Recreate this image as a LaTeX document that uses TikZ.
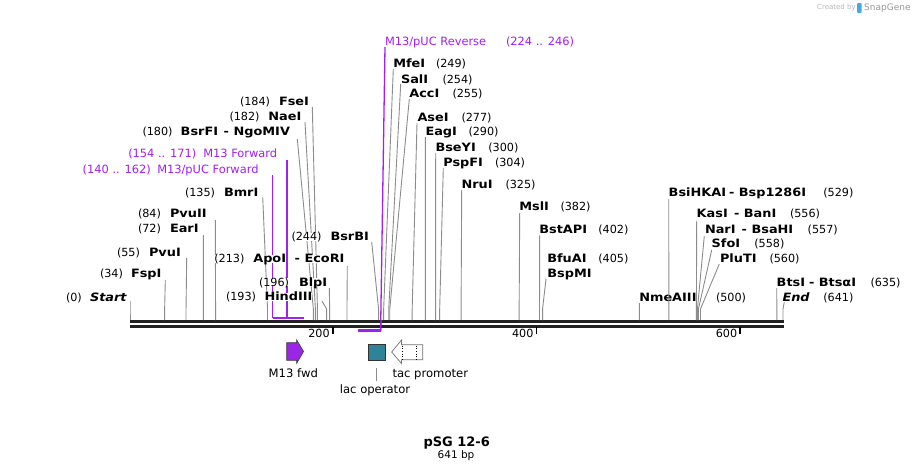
\documentclass[tikz,border=0pt]{standalone}
\usepackage{fontspec}
\setmainfont{DejaVu Sans}
\newfontfamily\enzfont{DejaVu Sans}[FakeStretch=1.12]
\definecolor{primer}{HTML}{A020F0}
\definecolor{cutgray}{HTML}{8C8C8C}
\definecolor{opteal}{HTML}{2E8399}
\definecolor{bbcol}{HTML}{222222}
\newcommand\enzline[4]{%
  \coordinate (#1t) at (#2,#3);
  \coordinate (#1k) at ({130+#4*1.0187},309);
  \coordinate (#1s) at ({130+#4*1.0187},320);
  \draw[cutln] (#1t) -- (#1k) -- (#1s);}
\begin{document}
\begin{tikzpicture}[x=1pt,y=-1pt,
  numtxt/.style={inner sep=0pt,outer sep=0pt,fill=white,text height=8pt,text depth=0pt,anchor=west,font=\fontsize{11.2}{13}\selectfont},
  nametxt/.style={inner sep=0pt,outer sep=0pt,fill=white,text height=8pt,text depth=0pt,anchor=west,font=\enzfont\fontsize{11.5}{13}\selectfont\bfseries},
  endtxt/.style={nametxt,font=\enzfont\fontsize{11.5}{13}\selectfont\bfseries\itshape},
  primtxt/.style={numtxt,text=primer,font=\fontsize{11.4}{13}\selectfont},
  cutln/.style={draw=cutgray,line width=0.9pt},
  primln/.style={draw=primer,line width=1.3pt},
  primbar/.style={draw=primer,line width=2.2pt},
  bbline/.style={draw=bbcol,line width=3pt},
  tickln/.style={draw=black,line width=1.8pt},
  feattxt/.style={inner sep=0pt,text height=8pt,text depth=0pt,font=\fontsize{11.6}{13}\selectfont}]
\useasboundingbox (0,0) rectangle (914,471);
\fill[white] (0,0) rectangle (914,471);

% watermark
\node[inner sep=0pt,anchor=west,text=black!28,font=\fontsize{7}{8}\selectfont] (wm1) at (817,8) {Created by};
\fill[color={rgb,255:red,70;green,170;blue,225},rounded corners=1pt] (857,3) rectangle (861.5,13);
\node[inner sep=0pt,anchor=west,text=black!40,font=\fontsize{9}{10}\selectfont] (wm2) at (864,8) {SnapGene};

% ---- primer lines (drawn first, labels lie over them)
\coordinate (pF1a) at (286.9,160); \coordinate (pF1b) at (286.9,317.7); \coordinate (pF1c) at (304.2,317.7);
\coordinate (pF2a) at (272.6,175); \coordinate (pF2b) at (272.6,317.7); \coordinate (pF2c) at (295,317.7);
\draw[primln] (pF1a) -- (pF1b);
\draw[primln] (pF2a) -- (pF2b);
\draw[primbar] (pF2b) -- (pF2c);
\draw[primbar] (pF1b) -- (pF1c);
\coordinate (pRa) at (385,47); \coordinate (pRb) at (380.6,330.5); \coordinate (pRc) at (358.2,330.5);
\draw[primln] (pRa) -- (pRb);
\draw[primbar] (pRc) -- (pRb);

% backbone
\coordinate (bbL1) at (130,321.8); \coordinate (bbR1) at (784,321.8);
\coordinate (bbL2) at (130,326.2); \coordinate (bbR2) at (784,326.2);
\draw[bbline] (bbL1) -- (bbR1);
\draw[bbline] (bbL2) -- (bbR2);
\draw[primln] (381.2,320) -- (380.6,330.5);
\foreach \p/\l in {199/200,399/400,599/600}{
  \coordinate (tk\l) at ({130+\p*1.0187},327);
  \draw[tickln] (tk\l) -- ++(0,7);
  \node[numtxt,anchor=east] (t\l) at ({130+\p*1.0187-3},333) {\l};
}

% ---- primer labels
\node[primtxt] (pF1n) at (128.3,153.3) {(154 .. 171)};
\node[primtxt] (pF1) at (203.3,153.3) {M13 Forward};
\node[primtxt] (pF2n) at (82.7,169) {(140 .. 162)};
\node[primtxt] (pF2) at (157.3,169) {M13/pUC Forward};
\node[primtxt] (pR) at (385,41.7) {M13/pUC Reverse};
\node[primtxt] (pRn) at (506,41.7) {(224 .. 246)};

% ---- left labels
\node[numtxt] (n0) at (66,297) {(0)};
\node[endtxt] (Start) at (90,297) {Start};
\enzline{Start}{130}{301}{0}
\node[numtxt] (n34) at (100,273) {(34)};
\node[nametxt] (FspI) at (131,273) {FspI};
\enzline{FspI}{165.3}{280}{34}
\node[numtxt] (n55) at (117,252) {(55)};
\node[nametxt] (PvuI) at (149,252) {PvuI};
\enzline{PvuI}{186.7}{258}{55}
\node[numtxt] (n72) at (138,228) {(72)};
\node[nametxt] (EarI) at (170,228) {EarI};
\enzline{EarI}{203.3}{235}{72}
\node[numtxt] (n84) at (138,213) {(84)};
\node[nametxt] (PvuII) at (170,213) {PvuII};
\enzline{PvuII}{215.3}{220}{84}
\node[numtxt] (n135) at (185,192) {(135)};
\node[nametxt] (BmrI) at (224,192) {BmrI};
\enzline{BmrI}{262.7}{197}{135}
\node[numtxt] (n180) at (142.5,131) {(180)};
\node[nametxt] (BsrFI) at (180.7,131) {BsrFI};
\node[nametxt,anchor=east] (NgoMIV) at (290,131) {- NgoMIV};
\enzline{NgoMIV}{297.3}{139}{180}
\node[numtxt] (n182) at (229.5,116.5) {(182)};
\node[nametxt] (NaeI) at (268.3,116.5) {NaeI};
\enzline{NaeI}{305}{122}{182}
\node[numtxt] (n184) at (240,101.7) {(184)};
\node[nametxt] (FseI) at (279,101.7) {FseI};
\enzline{FseI}{312.3}{107}{184}
\node[numtxt] (n244) at (291.5,236.7) {(244)};
\node[nametxt] (BsrBI) at (330.5,236.7) {BsrBI};
\enzline{BsrBI}{371.7}{242}{244}
\node[numtxt] (n213) at (214.3,258.5) {(213)};
\node[nametxt] (ApoI) at (253.3,258.5) {ApoI};
\node[nametxt] (EcoRI) at (294.7,258.5) {- EcoRI};
\enzline{EcoRI}{347.3}{266}{213}
\node[numtxt] (n196) at (259,282) {(196)};
\node[nametxt] (BlpI) at (299,282) {BlpI};
\enzline{BlpI}{329.3}{288}{196}
\node[numtxt] (n193) at (226,296.7) {(193)};
\node[nametxt] (HindIII) at (264.5,296.7) {HindIII};
\enzline{HindIII}{322}{301}{193}

% ---- right labels
\node[nametxt] (MfeI) at (393.3,63.5) {MfeI};
\node[numtxt] (n249) at (436,63.5) {(249)};
\enzline{MfeI}{393.3}{69}{249}
\node[nametxt] (SalI) at (401,79) {SalI};
\node[numtxt] (n254) at (442.5,79) {(254)};
\enzline{SalI}{400.7}{84}{254}
\node[nametxt] (AccI) at (409.3,93.5) {AccI};
\node[numtxt] (n255) at (452.5,93.5) {(255)};
\enzline{AccI}{409.3}{99}{255}
\node[nametxt] (AseI) at (417.5,117.3) {AseI};
\node[numtxt] (n277) at (461.5,117.3) {(277)};
\enzline{AseI}{417}{123}{277}
\node[nametxt] (EagI) at (425.5,131.7) {EagI};
\node[numtxt] (n290) at (468.5,131.7) {(290)};
\enzline{EagI}{425.3}{137}{290}
\node[nametxt] (BseYI) at (435.5,147.3) {BseYI};
\node[numtxt] (n300) at (488.3,147.3) {(300)};
\enzline{BseYI}{435.7}{153}{300}
\node[nametxt] (PspFI) at (443.3,162.3) {PspFI};
\node[numtxt] (n304) at (495,162.3) {(304)};
\enzline{PspFI}{443.3}{168}{304}
\node[nametxt] (NruI) at (461.5,184) {NruI};
\node[numtxt] (n325) at (505.5,184) {(325)};
\enzline{NruI}{461.7}{190}{325}
\node[nametxt] (MslI) at (519.3,206.5) {MslI};
\node[numtxt] (n382) at (560.5,206.5) {(382)};
\enzline{MslI}{519.7}{213}{382}
\node[nametxt] (BstAPI) at (539.3,229) {BstAPI};
\node[numtxt] (n402) at (598.3,229) {(402)};
\enzline{BstAPI}{539.7}{235}{402}
\node[nametxt] (BfuAI) at (547.3,258.5) {BfuAI};
\node[numtxt] (n405) at (598.3,258.5) {(405)};
\node[nametxt] (BspMI) at (547.3,273.5) {BspMI};
\enzline{BspMI}{546}{279}{405}
\node[nametxt] (NmeAIII) at (639.3,297.3) {NmeAIII};
\node[numtxt] (n500) at (716,297.3) {(500)};
\enzline{NmeAIII}{639.3}{303}{500}
\node[nametxt] (BsiHKAI) at (668.7,192.7) {BsiHKAI};
\node[nametxt] (Bsp1286I) at (729,192.7) {- Bsp1286I};
\node[numtxt] (n529) at (823.3,192.7) {(529)};
\enzline{BsiHKAI}{668.7}{199}{529}
\node[nametxt] (KasI) at (696.7,213.5) {KasI};
\node[nametxt] (BanI) at (734,213.5) {- BanI};
\node[numtxt] (n556) at (790,213.5) {(556)};
\enzline{KasI}{696.7}{220.7}{556}
\node[nametxt] (NarI) at (705,229.3) {NarI};
\node[nametxt] (BsaHI) at (741.7,229.3) {- BsaHI};
\node[numtxt] (n557) at (807.7,229.3) {(557)};
\enzline{NarI}{704.3}{236}{557}
\node[nametxt] (SfoI) at (711.7,243.3) {SfoI};
\node[numtxt] (n558) at (754.3,243.3) {(558)};
\enzline{SfoI}{711.7}{250}{558}
\node[nametxt] (PluTI) at (720,258.8) {PluTI};
\node[numtxt] (n560) at (769.5,258.8) {(560)};
\enzline{PluTI}{719.3}{264}{560}
\node[nametxt] (BtsI) at (776.7,282.5) {BtsI};
\node[nametxt] (BtsaI) at (809,282.5) {- BtsαI};
\node[numtxt] (n635) at (870.5,282.5) {(635)};
\enzline{BtsI}{776.7}{288}{635}
\node[endtxt] (End) at (782.5,297.3) {End};
\node[numtxt] (n641) at (823.3,297.3) {(641)};
\enzline{End}{784.3}{302}{641}

% ---- features
\draw[draw=black!75,fill={rgb,255:red,155;green,38;blue,230},line width=0.7pt,line join=miter]
  (286.7,342.7) -- (296.7,342.7) -- (296.7,340) -- (303.5,351.5) -- (296.7,363.2) -- (296.7,360.3) -- (286.7,360.3) -- cycle;
\node[feattxt] (fM13) at (293.3,373.3) {M13 fwd};
\draw[draw=black!80,fill=opteal,line width=0.7pt] (368.3,344) rectangle (385.7,360.7);
\coordinate (lacA) at (376.5,368); \coordinate (lacB) at (376.5,381);
\draw[draw=black!45,line width=0.8pt] (lacA) -- (lacB);
\node[feattxt] (flac) at (375,389.3) {lac operator};
\draw[draw=black!55,fill=white,line width=0.7pt,line join=miter]
  (391.7,352) -- (401.5,340) -- (401.5,344.8) -- (422.7,344.8) -- (422.7,359.8) -- (401.5,359.8) -- (401.5,363.5) -- cycle;
\draw[black,dotted,line width=0.7pt] (402.5,345.5) -- (402.5,359.3);
\draw[black,dotted,line width=0.7pt] (416.7,345.5) -- (416.7,359.3);
\node[feattxt,anchor=west] (ftac) at (392.3,373.3) {tac promoter};

% ---- title
\node[inner sep=0pt,anchor=base,font=\fontsize{13}{15}\selectfont\bfseries] (title) at (456.7,446) {pSG 12-6};
\node[inner sep=0pt,anchor=base,font=\fontsize{10.5}{12}\selectfont] (len) at (456,458) {641 bp};
\end{tikzpicture}
\end{document}
